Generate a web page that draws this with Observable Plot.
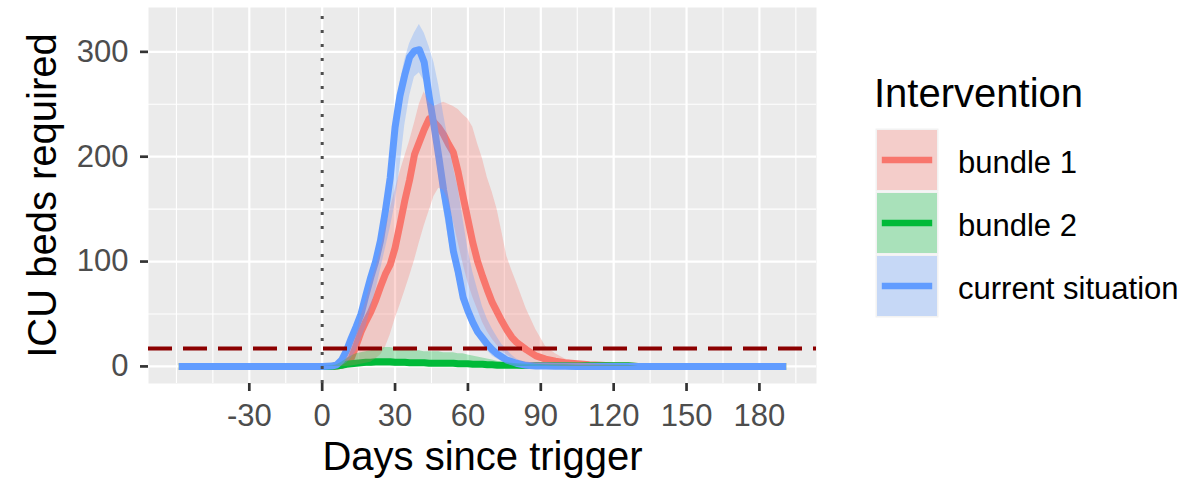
<!DOCTYPE html>
<html>
<head>
<meta charset="utf-8">
<script src="https://cdn.jsdelivr.net/npm/d3@7"></script>
<script src="https://cdn.jsdelivr.net/npm/@observablehq/plot@0.6"></script>
<style>
  body { margin: 0; background: white; }
  #figure { position: relative; width: 1201px; height: 484px; font-family: "Liberation Sans", Arial, Helvetica, sans-serif; }
  #legend { position: absolute; left: 860px; top: 60px; }
</style>
</head>
<body>
<div id="figure"></div>
<script>
// ICU bed demand by intervention: median (line) with uncertainty band (ribbon)
const interventions = ["bundle 1", "bundle 2", "current situation"];
const colours = ["#F8766D", "#00BA38", "#619CFF"];

// Days since trigger at which each series is recorded
const days = [-59, 0, 4, 6, 8, 10, 12, 14, 16, 18,
  20, 22, 24, 26, 28, 30, 32, 34, 36, 38,
  40, 42, 44, 46, 48, 50, 52, 54, 56, 58,
  60, 62, 64, 66, 68, 70, 72, 74, 76, 78,
  80, 84, 88, 92, 96, 100, 105, 110, 115, 120,
  126, 130, 191];

const bundle1Median = [0, 0, 0, 0.3, 1, 3, 8, 20, 33, 43,
  52, 63, 76, 88, 97, 113, 135, 158, 178, 202,
  214, 226, 236, 233, 228, 221, 212, 204, 185, 162,
  140, 118, 100, 86, 73, 61, 52, 43, 35, 28,
  23, 16, 10, 7, 5, 3.5, 2.5, 1.5, 1, 0.5,
  0.3, 0, 0];
const bundle1Lower = [0, 0, 0, 0, 0, 0, 0.5, 1, 2, 3,
  4, 7, 11, 18, 30, 45, 58, 72, 86, 101,
  118, 134, 148, 162, 170, 168, 158, 138, 118, 98,
  80, 66, 54, 42, 33, 26, 20, 15, 11, 8,
  6, 3.5, 2, 1, 0.5, 0, 0, 0, 0, 0,
  0, 0, 0];
const bundle1Upper = [0, 0, 0, 1, 2, 8, 18, 30, 48, 62,
  78, 93, 110, 130, 150, 168, 185, 200, 215, 232,
  250, 262, 252, 248, 250, 252, 250, 248, 245, 240,
  236, 228, 212, 198, 180, 166, 150, 128, 105, 92,
  80, 55, 35, 19, 12, 7, 4, 2.5, 1.5, 1,
  0.6, 0, 0];

const bundle2Median = [0, 0, 0, 0.3, 1, 2, 2.5, 3, 3.5, 4,
  4, 4.5, 4.5, 4.5, 4.5, 4, 4, 4, 3.5, 3.5,
  3.5, 3.5, 3, 3, 3, 3, 3, 3, 2.5, 2.5,
  2.5, 2, 2, 2, 1.5, 1.5, 1.2, 1, 1, 1,
  1, 0.9, 0.9, 0.8, 0.8, 0.8, 0.7, 0.7, 0.7, 0.7,
  0.7, 0, 0];
const bundle2Lower = [0, 0, 0, 0, 0, 0, 0, 0, 0, 0,
  0, 0, 0, 0, 0, 0, 0, 0, 0, 0,
  0, 0, 0, 0, 0, 0, 0, 0, 0, 0,
  0, 0, 0, 0, 0, 0, 0, 0, 0, 0,
  0, 0, 0, 0, 0, 0, 0, 0, 0, 0,
  0, 0, 0];
const bundle2Upper = [0, 0, 0.5, 1.5, 4, 7, 10, 12, 13, 14,
  15, 16, 17, 18, 18, 17, 17, 16, 16, 15,
  15, 14, 14, 14, 14, 13, 13, 13, 12, 12,
  11, 10, 9, 8, 7, 6, 5, 4, 3.5, 3,
  2.5, 2, 2, 1.5, 1.5, 1.5, 1.2, 1.2, 1, 1,
  1, 0, 0];

const currentMedian = [0, 0, 0.3, 1.5, 6, 15, 27, 38, 50, 68,
  85, 100, 120, 148, 180, 228, 258, 278, 295, 301,
  302, 290, 258, 230, 200, 168, 142, 110, 90, 66,
  53, 42, 33, 27, 21, 16, 12, 9, 6, 4.5,
  3, 1, 0.5, 0.3, 0.2, 0.1, 0, 0, 0, 0,
  0, 0, 0];
const currentLower = [0, 0, 0, 0, 0.5, 3, 8, 15, 26, 38,
  55, 72, 92, 112, 132, 155, 190, 230, 258, 276,
  280, 272, 245, 215, 182, 150, 122, 98, 78, 60,
  46, 36, 28, 21, 15, 10, 7, 4.5, 3, 2,
  1, 0.5, 0, 0, 0, 0, 0, 0, 0, 0,
  0, 0, 0];
const currentUpper = [0, 0, 0.5, 3, 9, 18, 32, 44, 57, 75,
  92, 108, 128, 158, 192, 238, 270, 292, 308, 318,
  326, 318, 305, 290, 268, 240, 215, 190, 170, 140,
  112, 90, 73, 57, 45, 36, 28, 21, 16, 11,
  7, 3, 1.5, 0.8, 0.4, 0.2, 0, 0, 0, 0,
  0, 0, 0];

// ICU capacity threshold and trigger day
const icuCapacity = 17;
const triggerDay = 0;

// Axis breaks
const xTicks = [-30, 0, 30, 60, 90, 120, 150, 180];
const xMinor = [-60, -45, -15, 15, 45, 75, 105, 135, 165, 195];
const yTicks = [0, 100, 200, 300];
const yMinor = [50, 150, 250];

const FONT = '"Liberation Sans", Arial, Helvetica, sans-serif';

// Long-format table for Plot
const series = [
  [interventions[0], bundle1Median, bundle1Lower, bundle1Upper],
  [interventions[1], bundle2Median, bundle2Lower, bundle2Upper],
  [interventions[2], currentMedian, currentLower, currentUpper]
];
const rows = [];
for (const [name, med, lo, hi] of series) {
  days.forEach((d, i) => rows.push({intervention: name, day: d, median: med[i], lower: lo[i], upper: hi[i]}));
}

// 5% padding on each side of the data range
const expand = ([a, b]) => [a - 0.05 * (b - a), b + 0.05 * (b - a)];
const xDomain = expand(d3.extent(days));
const yDomain = expand([d3.min(rows, r => r.lower), d3.max(rows, r => r.upper)]);

const chart = Plot.plot({
  width: 1201,
  height: 484,
  marginLeft: 148,
  marginRight: 385,
  marginTop: 7,
  marginBottom: 101,
  style: {fontFamily: FONT, background: "white", overflow: "visible"},
  x: {domain: xDomain},
  y: {domain: yDomain},
  color: {domain: interventions, range: colours},
  marks: [
    Plot.frame({fill: "#EBEBEB", stroke: "none"}),
    Plot.ruleX(xMinor, {stroke: "white", strokeWidth: 1.1}),
    Plot.ruleY(yMinor, {stroke: "white", strokeWidth: 1.1}),
    Plot.ruleX(xTicks, {stroke: "white", strokeWidth: 2.2}),
    Plot.ruleY(yTicks, {stroke: "white", strokeWidth: 2.2}),
    Plot.line(rows, {x: "day", y: "median", z: "intervention", stroke: "intervention",
      strokeWidth: 7, strokeLinecap: "butt", strokeLinejoin: "round"}),
    Plot.areaY(rows, {x: "day", y1: "lower", y2: "upper", z: "intervention",
      fill: "intervention", fillOpacity: 0.3}),
    Plot.ruleY([icuCapacity], {stroke: "#8B0000", strokeWidth: 4, strokeDasharray: "24 11"}),
    Plot.ruleX([triggerDay], {stroke: "#4D4D4D", strokeWidth: 3, strokeDasharray: "3 11", strokeDashoffset: 5}),
    Plot.axisX({ticks: xTicks, tickFormat: d => String(d), tickSize: 8, tickPadding: 12, fontSize: 31,
      color: "#4D4D4D", stroke: "#333333", strokeWidth: 2.7, label: null}),
    Plot.axisY({ticks: yTicks, tickFormat: d => String(d), tickSize: 8, tickPadding: 12, fontSize: 31,
      color: "#4D4D4D", stroke: "#333333", strokeWidth: 2.7, label: null}),
    Plot.text(["Days since trigger"], {text: d => d, frameAnchor: "bottom", dy: 74,
      fontSize: 40, fill: "black", textAnchor: "middle", lineAnchor: "middle"}),
    Plot.text(["ICU beds required"], {text: d => d, frameAnchor: "left", dx: -105, rotate: -90,
      fontSize: 40, fill: "black", textAnchor: "middle", lineAnchor: "middle"})
  ]
});

const figure = document.getElementById("figure");
figure.appendChild(chart);

// Legend: ribbon key with the median line across it
const legend = d3.create("svg")
  .attr("id", "legend")
  .attr("width", 341)
  .attr("height", 280)
  .style("font-family", FONT);

legend.append("text")
  .attr("x", 14)
  .attr("y", 46.7)
  .attr("font-size", 40)
  .attr("fill", "black")
  .text("Intervention");

interventions.forEach((name, i) => {
  const cy = 68.5 + i * 63;
  legend.append("rect").attr("x", 15.5).attr("y", cy).attr("width", 63).attr("height", 63).attr("fill", "#F2F2F2");
  legend.append("rect").attr("x", 17).attr("y", cy + 1.5).attr("width", 60).attr("height", 60)
    .attr("fill", colours[i]).attr("fill-opacity", 0.3);
  legend.append("line").attr("x1", 21.8).attr("x2", 72.2).attr("y1", cy + 31.5).attr("y2", cy + 31.5)
    .attr("stroke", colours[i]).attr("stroke-width", 6.5);
  legend.append("text").attr("x", 98).attr("y", cy + 44).attr("font-size", 31).attr("fill", "black").text(name);
});

figure.appendChild(legend.node());
</script>
</body>
</html>
